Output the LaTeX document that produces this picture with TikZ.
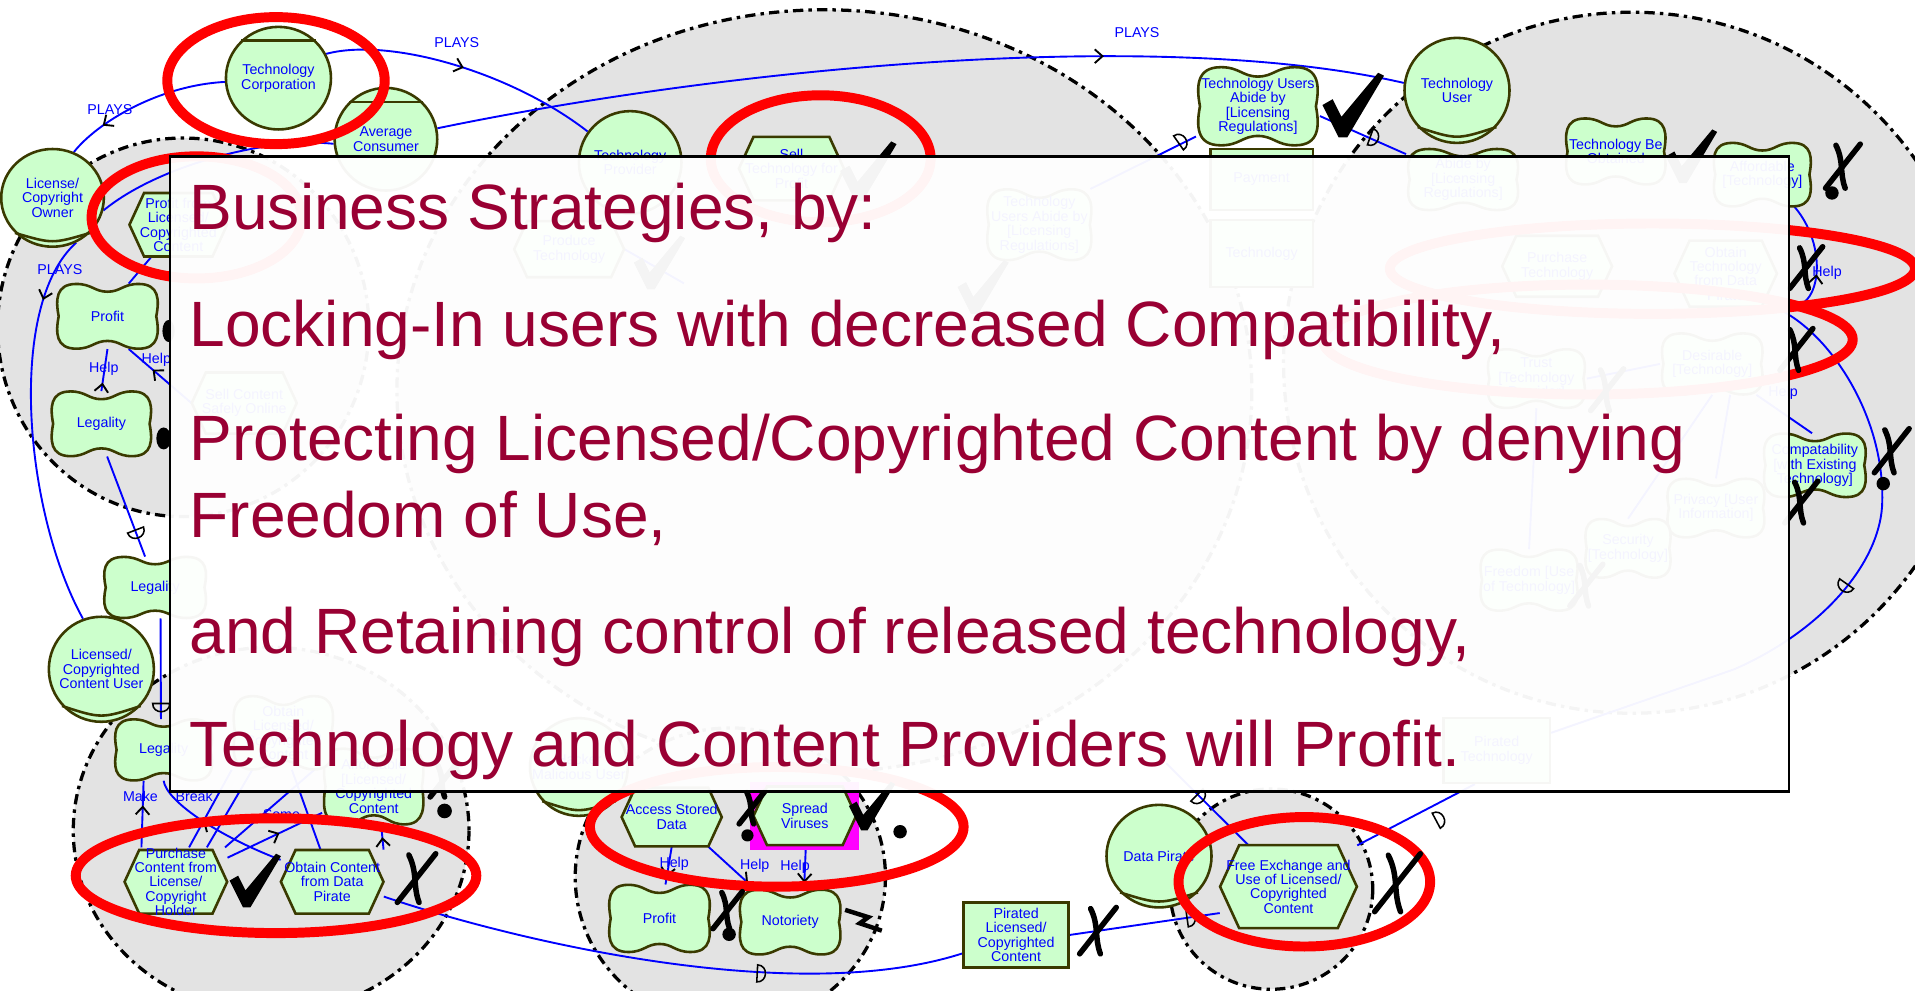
\documentclass[tikz,border=0pt]{standalone}
\usepackage{fontspec}
\setmainfont{Liberation Sans}
\usetikzlibrary{shapes.geometric,arrows.meta,decorations.markings,calc}

\definecolor{nblue}{HTML}{0000FF}
\definecolor{nodefill}{HTML}{CCFFCC}
\definecolor{nodeedge}{HTML}{3A3A00}
\definecolor{zonegrey}{HTML}{E3E3E3}
\definecolor{ringred}{HTML}{FF0000}
\definecolor{bigred}{HTML}{990033}
\definecolor{hotpink}{HTML}{FF00FF}

\pgfdeclarelayer{zones}
\pgfdeclarelayer{links}
\pgfdeclarelayer{marks}
\pgfdeclarelayer{cover}
\pgfsetlayers{zones,links,main,marks,cover}

\newcommand{\nfont}{\fontsize{8.3}{8.4}\selectfont}
\newcommand{\bigfont}{\fontsize{37.3}{44.8}\selectfont}

\tikzset{
  ntext/.style={font=\nfont, text=nblue, align=center, inner sep=0pt},
  shapeline/.style={draw=nodeedge, line width=1.5pt, fill=nodefill},
  res/.style={ntext, draw=nodeedge, line width=1.5pt, fill=nodefill, rectangle},
  conn/.style={draw=nblue, line width=1.1pt},
  zone/.style={fill=zonegrey, draw=black, line width=1.9pt, dash pattern=on 6pt off 3pt on 2pt off 3pt},
  ring/.style={draw=ringred, line width=5.8pt},
  lbl/.style={font=\nfont, text=nblue, inner sep=0pt},
  bigline/.style={font=\bigfont, text=bigred, inner sep=0pt, anchor=base west},
  fwd/.style={postaction={decorate, decoration={markings, mark=at position #1 with {\arrow{Straight Barb[color=black,length=4.5pt,width=8pt,line width=1.1pt]}}}}},
  bwd/.style={postaction={decorate, decoration={markings, mark=at position #1 with {\arrowreversed{Straight Barb[color=black,length=4.5pt,width=8pt,line width=1.1pt]}}}}},
}

% softgoal: name, x, y, width, height, text
\newcommand{\mkgoal}[6]{%
  \pgfmathsetmacro\sgA{#4/2}%
  \pgfmathsetmacro\sgB{#5/2}%
  \pgfmathsetmacro\sgT{#5*0.12}%
  \pgfmathsetmacro\sgS{#4*0.03}%
  \path[shapeline,shift={(#2,#3)}] (-\sgA+\sgS,0)
    .. controls (-\sgA,-0.5*\sgB) and (-\sgA,-\sgB) .. (-0.6*\sgA,-\sgB)
    .. controls (-0.3*\sgA,-\sgB) and (-0.25*\sgA,-\sgB+\sgT) .. (0,-\sgB+\sgT)
    .. controls (0.25*\sgA,-\sgB+\sgT) and (0.3*\sgA,-\sgB) .. (0.6*\sgA,-\sgB)
    .. controls (\sgA,-\sgB) and (\sgA,-0.5*\sgB) .. (\sgA-\sgS,0)
    .. controls (\sgA,0.5*\sgB) and (\sgA,\sgB) .. (0.6*\sgA,\sgB)
    .. controls (0.3*\sgA,\sgB) and (0.25*\sgA,\sgB-\sgT) .. (0,\sgB-\sgT)
    .. controls (-0.25*\sgA,\sgB-\sgT) and (-0.3*\sgA,\sgB) .. (-0.6*\sgA,\sgB)
    .. controls (-\sgA,\sgB) and (-\sgA,0.5*\sgB) .. cycle;
  \node[ntext, minimum width={#4*0.025cm}, minimum height={#5*0.025cm}] (#1) at (#2,#3) {#6};%
}
% task (hexagon): name, x, y, width, height, text
\newcommand{\mktask}[6]{%
  \pgfmathsetmacro\tkA{#4/2}%
  \pgfmathsetmacro\tkB{#5/2}%
  \pgfmathsetmacro\tkC{#5*0.23}%
  \path[shapeline,shift={(#2,#3)}] (-\tkA,0) -- (-\tkA+\tkC,-\tkB) -- (\tkA-\tkC,-\tkB)
    -- (\tkA,0) -- (\tkA-\tkC,\tkB) -- (-\tkA+\tkC,\tkB) -- cycle;
  \node[ntext, minimum width={#4*0.025cm}, minimum height={#5*0.025cm}] (#1) at (#2,#3) {#6};%
}
% actor circle: name, x, y, x radius, y radius, text
\newcommand{\mkactor}[6]{%
  \node[shapeline, ellipse, inner sep=0pt, minimum width={2*#4*0.025cm}, minimum height={2*#5*0.025cm}] (#1) at (#2,#3) {};
  \node[ntext] (#1t) at (#2,#3) {#6};%
}
\newcommand{\topbar}[1]{\draw[draw=nodeedge, line width=1.5pt] (#1.45) -- (#1.135);}
\newcommand{\lowbar}[1]{\draw[draw=nodeedge, line width=1.5pt] (#1.-137) .. controls ($(#1.center)!0.92!(#1.south)$) .. (#1.-43);}

% evaluation marks
\newcommand{\mkcheck}[3]{\fill[black,shift={(#1,#2)},scale=#3] (-21,0) -- (-14,-4) -- (-8,8) -- (17,-22) -- (21,-20) -- (-4,22) -- (-10,22) -- cycle;}
\newcommand{\mkcross}[3]{\begin{scope}[shift={(#1,#2)},scale=#3]
  \draw[black, line width=3.2pt, line cap=round] (-14,18) -- (16,-20);
  \draw[black, line width=3.2pt, line cap=round] (-5,-19) .. controls (2,-5) and (-2,5) .. (3,18);
  \end{scope}}
\newcommand{\mkdee}[3]{\draw[black, line width=0.9pt, shift={(#1,#2)}, rotate=#3] (0,-7) -- (0,7) .. controls (9,7) and (9,-7) .. (0,-7) -- cycle;}

\begin{document}
\begin{tikzpicture}[x=0.025cm,y=-0.025cm]
\useasboundingbox (0,0) rectangle (1568,811);

% ---------- actor boundaries ----------
\begin{pgfonlayer}{zones}
  \fill[white] (0,0) rectangle (1568,811);
  \path[zone] (150,268) ellipse [x radius=152, y radius=155];
  \path[zone] (675,320) ellipse [x radius=350, y radius=312];
  \path[zone] (1336,297) ellipse [x radius=285, y radius=287];
  \path[zone] (222,680) ellipse [x radius=162, y radius=150];
  \path[zone] (598,718) ellipse [x radius=127, y radius=122];
  \path[zone] (1041,728) ellipse [x radius=83, y radius=82];
\end{pgfonlayer}

% ---------- actors ----------
\mkactor{techcorp}{228}{64}{43}{42}{Technology\\Corporation}\topbar{techcorp}
\mkactor{avgcons}{316}{114}{42}{42}{Average\\Consumer}\topbar{avgcons}
\mkactor{lcowner}{43}{162}{42}{40}{License/\\Copyright\\Owner}\lowbar{lcowner}
\mkactor{techprov}{516}{133}{42}{42}{Technology\\Provider}
\mkactor{techuser}{1193}{74}{43}{43}{Technology\\User}\lowbar{techuser}
\mkactor{lccuser}{83}{548}{43}{43}{Licensed/\\Copyrighted\\Content User}\lowbar{lccuser}
\mkactor{hacker}{474}{628}{40}{40}{Hacker\\Malicious User}\lowbar{hacker}
\mkactor{datapirate}{949}{701}{43}{42}{Data Pirate}\lowbar{datapirate}

% ---------- softgoals ----------
\mkgoal{profitL}{88}{259}{85}{53}{Profit}
\mkgoal{legal1}{83}{347}{84}{53}{Legality}
\mkgoal{legal2}{127}{481}{86}{50}{Legality}
\mkgoal{legal3}{134}{614}{82}{50}{Legality}
\mkgoal{affLCC}{306}{644}{84}{62}{Affordable\\{[}Licensed/\\Copyrighted\\Content}
\mkgoal{obtLCC}{232}{600}{84}{60}{Obtain\\Licensed/\\Copyrighted\\Content}
\mkgoal{profitB}{540}{752}{85}{55}{Profit}
\mkgoal{notoriety}{647}{755}{85}{53}{Notoriety}
\mkgoal{tuabide}{1030}{87}{101}{64}{Technology Users\\Abide by\\{[}Licensing\\Regulations{]}}
\mkgoal{abide2}{1198}{147}{93}{50}{Abide by\\{[}Licensing\\Regulations{]}}
\mkgoal{tuabide2}{851}{184}{88}{58}{Technology\\Users Abide by\\{[}Licensing\\Regulations{]}}
\mkgoal{techobt}{1323}{124}{84}{54}{Technology Be\\Obtained}
\mkgoal{afftech}{1443}{143}{82}{52}{Affordable\\{[}Technology{]}}
\mkgoal{desirable}{1402}{298}{85}{50}{Desirable\\{[}Technology{]}}
\mkgoal{compat}{1486}{381}{86}{52}{Compatability\\{[}with Existing\\Technology{]}}
\mkgoal{trust}{1258}{310}{82}{48}{Trust\\{[}Technology\\Provider{]}}
\mkgoal{privacy}{1405}{416}{82}{48}{Privacy {[}User\\Information{]}}
\mkgoal{security}{1333}{449}{72}{48}{Security\\{[}Technology{]}}
\mkgoal{freedom}{1252}{475}{82}{50}{Freedom {[}Use\\of Technology{]}}

% ---------- tasks ----------
\mktask{profitLCC}{146}{184}{80}{52}{Profit from\\Licensed/\\Copyrighted\\Content}
\mktask{sell}{648}{138}{86}{52}{Sell\\Technology for\\Profit}
\mktask{sellCSO}{200}{330}{86}{50}{Sell Content\\Safely Online}
\mktask{produce}{466}{204}{90}{46}{Produce\\Technology}
\mktask{purchase}{144}{722}{84}{52}{Purchase\\Content from\\License/\\Copyright\\Holder}
\mktask{obtainDP}{272}{722}{84}{52}{Obtain Content\\from Data\\Pirate}
\mktask{access}{550}{669}{82}{48}{Access Stored\\Data}
\fill[hotpink] (614,640) rectangle (703,696);
\mktask{spread}{659}{668}{84}{48}{Spread\\Viruses}
\mktask{freeex}{1055}{726}{112}{68}{Free Exchange and\\Use of Licensed/\\Copyrighted\\Content}
\mktask{purchTech}{1275}{218}{90}{50}{Purchase\\Technology}
\mktask{obtTech}{1413}{224}{84}{54}{Obtain\\Technology\\from Data\\Pirate}

% ---------- resources ----------
\node[res, minimum width={86*0.025cm}, minimum height={53*0.025cm}] (pirated) at (832,765.5) {Pirated\\Licensed/\\Copyrighted\\Content};
\node[res, minimum width={84*0.025cm}, minimum height={50*0.025cm}] (payment) at (1033,147) {Payment};
\node[res, minimum width={84*0.025cm}, minimum height={55*0.025cm}] (techres) at (1033,207.5) {Technology};
\node[res, minimum width={87*0.025cm}, minimum height={53*0.025cm}] (pirtech) at (1225.5,614.5) {Pirated\\Technology};

% ---------- link labels ----------
\node[lbl] (pl1) at (90,90) {PLAYS};
\node[lbl] (pl2) at (374,35) {PLAYS};
\node[lbl] (pl3) at (931,27) {PLAYS};
\node[lbl] (pl4) at (49,221) {PLAYS};
\node[lbl] (h1) at (85,302) {Help};
\node[lbl] (h2) at (128,295) {Help};
\node[lbl] (mk) at (115,652) {Make};
\node[lbl] (bk) at (159,652) {Break};
\node[lbl] (sm) at (234,667) {Some -};
\node[lbl] (h3) at (552,707) {Help};
\node[lbl] (h4) at (618,709) {Help};
\node[lbl] (h5) at (651,710) {Help};
\node[lbl] (h6) at (1496,223) {Help};
\node[lbl] (h7) at (1460,322) {Help};

% ---------- links ----------
\coordinate (hidA) at (955,625);
\coordinate (arcm) at (1541,415);
\coordinate (arce) at (1420,548);
\coordinate (hidB) at (560,232);
\begin{pgfonlayer}{links}
  \draw[conn, bwd=0.23] (lcowner.65) .. controls (80,100) and (130,70) .. (techcorp.184);
  \draw[conn, fwd=0.5] (techcorp.27) .. controls (320,30) and (420,60) .. (techprov.144);
  \draw[conn, fwd=0.69] (avgcons.12) .. controls (600,55) and (950,22) .. (techuser.172);
  \draw[conn, fwd=0.17] (lcowner.-62) .. controls (5,250) and (20,420) .. (lccuser.110);
  \draw[conn] (avgcons.185) .. controls (220,112) and (130,135) .. (lcowner.-14);
  \draw[conn] (profitL.57) -- (profitLCC.230);
  \draw[conn, fwd=0.2] (legal1.north) -- (profitL.south);
  \draw[conn, fwd=0.62] (sellCSO.west) -- (profitL.-57);
  \draw[conn] (legal1.-80) -- (legal2.108);
  \draw[conn] (legal2.-80) -- (legal3.95);
  \draw[conn, fwd=0.63] (purchase.135) -- (legal3.237);
  \draw[conn, fwd=0.6] (obtainDP.157) .. controls (175,683) and (136,655) .. (legal3.south);
  \draw[conn] (purchase.69) -- (obtLCC.south west);
  \draw[conn] (purchase.48) -- (obtLCC.230);
  \draw[conn] (purchase.35) -- (obtLCC.-50);
  \draw[conn] (obtainDP.110) -- (obtLCC.-77);
  \draw[conn, fwd=0.55] (purchase.25) -- (affLCC.207);
  \draw[conn, fwd=0.5] (obtainDP.32) -- (affLCC.-79);
  \draw[conn] (obtainDP.-16) .. controls (420,770) and (650,825) .. (pirated.199);
  \draw[conn] (pirated.east) -- (freeex.201);
  \draw[conn] (hidA) -- (freeex.134);
  \draw[conn] (freeex.31) -- (pirtech.237);
  \draw[conn, fwd=0.8] (access.south) -- (profitB.80);
  \draw[conn, fwd=0.85] (access.-39) -- (notoriety.137);
  \draw[conn, fwd=0.85] (spread.-88) -- (notoriety.67);
  \draw[conn, fwd=0.45] (obtTech.-30) .. controls (1490,265) and (1500,205) .. (afftech.-45);
  \draw[conn] (obtTech.-35) .. controls (1495,268) and (1545,340) .. (arcm)
     .. controls (1538,460) and (1495,515) .. (arce) -- (pirtech.18);
  \draw[conn] (desirable.-35) -- (compat.95);
  \draw[conn] (tuabide.-9) -- (abide2.156);
  \draw[conn] (tuabide2.35) -- (tuabide.206);
  \draw[conn] (produce.east) -- (hidB);
  \draw[conn] (trust.east) -- (desirable.west);
  \draw[conn] (security.north) -- (desirable.south);
  \draw[conn] (privacy.north) -- (desirable.-60);
  \draw[conn] (freedom.north) -- (trust.south);
\end{pgfonlayer}

% ---------- dependency marks, evaluations, highlights ----------
\begin{pgfonlayer}{marks}
  \mkdee{111}{434}{-69}
  \mkdee{132}{576}{-90}
  \mkdee{620}{797}{-3}
  \mkdee{965}{117}{35}
  \mkdee{1122}{112}{-20}
  \mkdee{980}{651}{-45}
  \mkdee{972}{752}{8}
  \mkdee{1176}{672}{28}
  \mkdee{1512}{478}{-125}

  \draw[ring] (226,66) ellipse [x radius=89, y radius=52];
  \draw[ring] (161,178) ellipse [x radius=86, y radius=50];
  \draw[ring] (672,130) ellipse [x radius=90, y radius=52];
  \draw[ring] (226,717) ellipse [x radius=164, y radius=47];
  \draw[ring] (636,677) ellipse [x radius=153, y radius=49];
  \draw[ring] (1068,722) ellipse [x radius=103, y radius=53];
  \draw[ring] (1353,220) ellipse [x radius=215, y radius=37];
  \draw[ring] (1300,278) ellipse [x radius=217, y radius=45];

  \mkcheck{1108}{86}{1.2}
  \mkcheck{1385}{128}{1.0}
  \mkcheck{711}{140}{1.1}
  \mkcheck{209}{721}{1.0}
  \mkcheck{714}{660}{0.9}
  \fill (737,681) circle (5.5);
  \mkcheck{540}{215}{1.0}
  \mkcheck{805}{235}{1.0}

  \mkcross{340}{720}{1.05}
  \mkcross{898}{763}{1.0}
  \mkcross{1143}{724}{1.25}
  \mkcross{1508}{137}{0.95}
  \fill (1500,158) circle (5.5);
  \mkcross{1548}{370}{0.95}
  \fill (1542,396) circle (5.5);
  \mkcross{1478}{220}{0.9}
  \mkcross{1470}{287}{0.9}
  \mkcross{1474}{412}{0.9}
  \mkcross{615}{662}{0.7}
  \fill (612,684) circle (5);
  \mkcross{595}{746}{0.8}
  \fill (597,765) circle (5.5);
  \mkcross{362}{640}{0.7}
  \fill (364,664) circle (6);
  \mkcross{1315}{320}{0.9}
  \mkcross{1298}{480}{0.9}
  \fill (138,271) ellipse [x radius=5, y radius=9];
  \fill (134,359) ellipse [x radius=6, y radius=9];
  \draw[black, line width=2.6pt] (692,745) -- (711,751) -- (704,756) -- (722,762);
\end{pgfonlayer}

% ---------- overlay panel ----------
\begin{pgfonlayer}{cover}
  \draw[line width=1.4pt, fill=white, fill opacity=0.955] (139,128) rectangle (1465,648);
  \node[bigline] (s1) at (155,188) {Business Strategies, by:};
  \node[bigline] (s2) at (155,284) {Locking-In users with decreased Compatibility,};
  \node[bigline] (s3) at (155,377) {Protecting Licensed/Copyrighted Content by denying};
  \node[bigline] (s4) at (155,440) {Freedom of Use,};
  \node[bigline] (s5) at (155,535) {and Retaining control of released technology,};
  \node[bigline] (s6) at (155,628) {Technology and Content Providers will Profit.};
\end{pgfonlayer}
\end{tikzpicture}
\end{document}
